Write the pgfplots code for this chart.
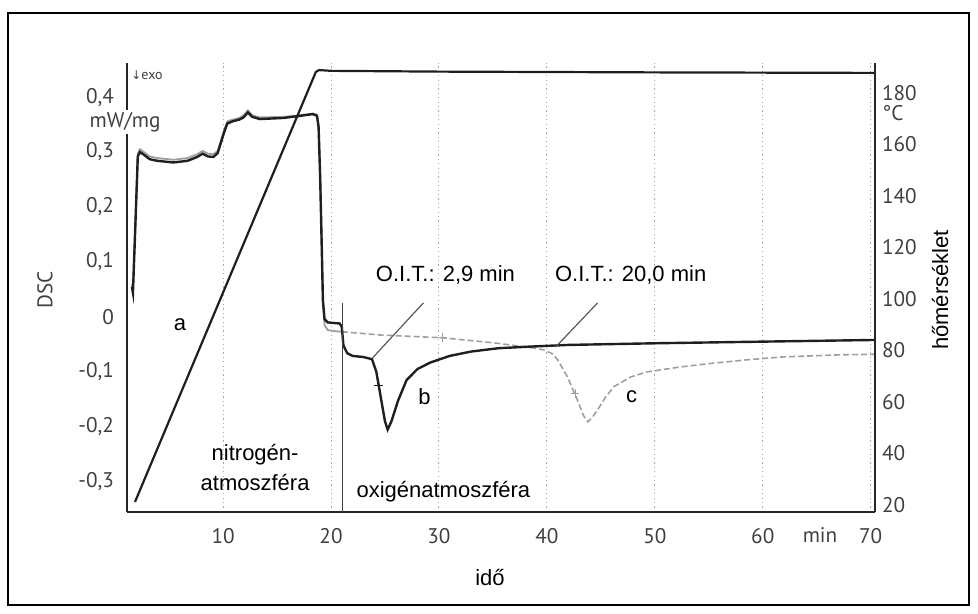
\documentclass[border=0pt]{standalone}
\usepackage{fontspec}
\setmainfont{Liberation Sans}
\newfontfamily\tickfont{PT Sans}
\newfontfamily\symfont{DejaVu Sans}
\usepackage{pgfplots}
\pgfplotsset{compat=1.18}

\definecolor{curveb}{gray}{0.12}
\definecolor{curvec}{gray}{0.62}
\definecolor{ticktext}{gray}{0.25}
\newcommand{\annot}{\fontsize{11}{15}\selectfont}
\newcommand{\tickf}{\tickfont\fontsize{10.6}{12}\selectfont}

\begin{document}
\begin{tikzpicture}
\path[use as bounding box] (-63.5pt,-51pt) rectangle (425.5pt,256pt);
\draw[line width=1.4pt] (-59.5pt,-46.5pt) rectangle (421pt,249.5pt);

% DSC signal (left axis)
\begin{axis}[
    scale only axis,
    width=374pt, height=224.5pt,
    xmin=1.1, xmax=70.4,
    ymin=-0.355, ymax=0.462,
    axis x line*=bottom, axis y line*=left,
    axis line style={-, line width=0.9pt, black!85},
    xtick={10,20,30,40,50,60,70},
    ytick={-0.3,-0.2,-0.1,0,0.1,0.2,0.3,0.4},
    yticklabels={{-0,3},{-0,2},{-0,1},0,{0,1},{0,2},{0,3},{0,4}},
    /pgf/number format/assume math mode=true,
    major tick length=0,
    xmajorgrids,
    grid style={black!35, dash pattern=on 0.6pt off 1.6pt, line width=0.5pt},
    tick label style={font=\tickf, text=ticktext},
    yticklabel style={xshift=-3pt},
    xticklabel style={yshift=-4.5pt},
    clip=false,
]
% sample c, nitrogen part
\addplot[curvec, line width=0.9pt] coordinates {
(1.55,0.06) (1.65,0.05) (1.85,0.158) (2.1,0.297) (2.3,0.305) (2.6,0.301)
(3.2,0.292) (3.9,0.289) (5.4,0.286) (6.7,0.289) (7.6,0.296) (8.1,0.302)
(8.6,0.297) (9.1,0.296) (9.5,0.302) (9.8,0.321) (10.1,0.34) (10.4,0.356)
(10.9,0.359) (11.5,0.362) (11.9,0.367) (12.3,0.376) (12.7,0.367) (13.4,0.363)
(15.6,0.364) (17.2,0.367) (18.3,0.37) (18.7,0.368) (18.85,0.35) (19.0,0.26)
(19.15,0.13) (19.25,0.03) (19.4,-0.015) (19.7,-0.024) (20.4,-0.026) (21.0,-0.027)};
% sample c, oxygen part
\addplot[curvec, line width=0.8pt, dash pattern=on 3pt off 1.5pt] coordinates {
(21.0,-0.027) (24.6,-0.033) (30.3,-0.038) (35,-0.047) (38.2,-0.055)
(39.7,-0.06) (40.5,-0.067) (41.0,-0.078) (41.9,-0.109) (42.8,-0.15)
(43.4,-0.18) (43.8,-0.191) (44.2,-0.183) (44.7,-0.169) (45.4,-0.147)
(46.2,-0.127) (47.8,-0.109) (49.3,-0.1) (52.4,-0.091) (55.5,-0.084)
(58.6,-0.078) (61.7,-0.073) (67.2,-0.069) (70.3,-0.068)};
% sample b
\addplot[curveb, line width=1.2pt] coordinates {
(1.55,0.055) (1.65,0.044) (1.85,0.153) (2.1,0.292) (2.3,0.300) (2.6,0.296)
(3.2,0.287) (3.9,0.284) (5.4,0.281) (6.7,0.284) (7.6,0.291) (8.1,0.297)
(8.6,0.292) (9.1,0.291) (9.5,0.298) (9.8,0.317) (10.1,0.336) (10.4,0.352)
(10.9,0.356) (11.5,0.359) (11.9,0.363) (12.3,0.372) (12.7,0.364) (13.4,0.360)
(15.6,0.362) (17.2,0.366) (18.3,0.369) (18.7,0.366) (18.85,0.345) (19.0,0.25)
(19.15,0.12) (19.25,0.03) (19.4,-0.004) (19.7,-0.01) (20.2,-0.011) (20.8,-0.012)
(21.0,-0.018) (21.15,-0.052) (21.5,-0.066) (22.0,-0.071) (23.0,-0.073)
(23.8,-0.077) (24.2,-0.1) (24.6,-0.145) (25.0,-0.19) (25.25,-0.205)
(25.6,-0.19) (26.2,-0.153) (27.0,-0.115) (28.0,-0.095) (29.2,-0.083)
(31.0,-0.071) (33.0,-0.063) (35.5,-0.057) (38.5,-0.054) (42.0,-0.051)
(50.0,-0.048) (60.0,-0.045) (70.3,-0.042)};
% onset tangents
\addplot[black!65, line width=0.6pt] coordinates {(23.83,-0.075) (28.56,0.0255)};
\addplot[black!65, line width=0.6pt] coordinates {(40.8,-0.055) (44.7,0.0255)};
% gas switch
\addplot[black!75, line width=0.7pt] coordinates {(21.05,-0.355) (21.05,0.0255)};
% small marks on the curves
\addplot[only marks, mark=+, mark size=2.2pt, curveb] coordinates {(24.38,-0.125)};
\addplot[only marks, mark=+, mark size=2.2pt, curvec] coordinates {(42.6,-0.14) (30.3,-0.038)};

\node[font=\annot] at (axis cs:6.02,-0.0145) {a};
\node[font=\annot] at (axis cs:28.65,-0.145) {b};
\node[font=\annot] at (axis cs:47.85,-0.145) {c};
\node[font=\annot] at (axis cs:30.6,0.0764) {O.I.T.: 2,9 min};
\node[font=\annot] at (axis cs:47.76,0.0764) {O.I.T.: 20,0 min};
\node[font=\annot, align=center] at (axis cs:12.97,-0.2745) {nitrogén-\\atmoszféra};
\node[font=\annot] at (axis cs:30.41,-0.318) {oxigénatmoszféra};
\end{axis}

% temperature (right axis)
\begin{axis}[
    scale only axis,
    width=374pt, height=224.5pt,
    xmin=1.1, xmax=70.4,
    ymin=17.3, ymax=191.65,
    axis x line=none, axis y line*=right,
    axis line style={-, line width=0.9pt, black!85},
    ytick={20,40,60,80,100,120,140,160,180},
    /pgf/number format/assume math mode=true,
    major tick length=0,
    tick label style={font=\tickf, text=ticktext},
    clip=false,
]
\addplot[curveb, line width=1.1pt] coordinates {
(1.84,21.2) (18.6,188.2) (18.9,188.9) (20,188.6) (30,188.3) (50,188.0) (70.3,187.8)};
\end{axis}

% labels outside the axis box
\node[font=\tickf, text=ticktext, rotate=90] at (-41pt,111pt) {DSC};
\node[font=\annot, rotate=90] at (406.5pt,111pt) {hőmérséklet};
\node[font=\annot] at (181.5pt,-33pt) {idő};
\node[font=\tickf, text=ticktext] at (346.5pt,-11.5pt) {min};
\node[font=\tickf, text=ticktext, anchor=west, inner sep=0pt] at (377.5pt,199.5pt) {°C};
\node[font=\tickf, text=ticktext, fill=white, inner sep=1pt] at (-1pt,195pt) {mW/mg};
\node[font=\tickfont\fontsize{7}{8}\selectfont, text=ticktext, anchor=west, inner sep=0pt]
    at (2pt,218.5pt) {{\symfont\fontsize{6}{7}\selectfont ↓}exo};
\end{tikzpicture}
\end{document}
